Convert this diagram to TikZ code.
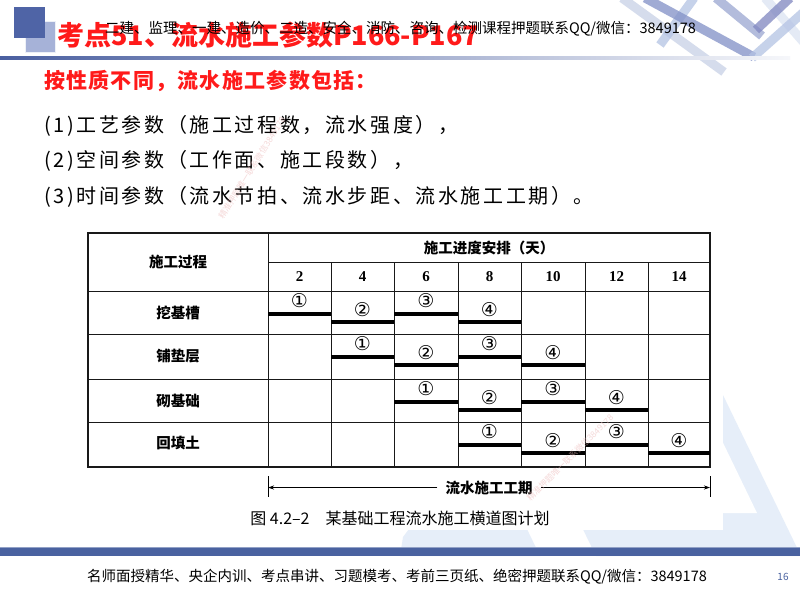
\documentclass[tikz,border=0pt]{standalone}
\usepackage{fontspec}
\setmainfont{Liberation Serif}
\newfontfamily\cjk{Noto Sans CJK SC}
\newfontfamily\song{Noto Sans CJK SC}
\newfontfamily\dejavu{DejaVu Sans}
\usetikzlibrary{arrows.meta}
\definecolor{hblue}{HTML}{4A5FA0}
\definecolor{sqdark}{HTML}{4F64A6}
\definecolor{sqlight}{HTML}{A6B2D8}
\definecolor{bgblue}{HTML}{E6EEF9}
\definecolor{wm}{HTML}{EDB9B9}
\definecolor{titlered}{HTML}{FF1A1A}
\definecolor{fblue}{HTML}{4A62A0}
\definecolor{dA}{HTML}{C8D1E6}
\definecolor{dB}{HTML}{8190C6}
\definecolor{dC}{HTML}{B4C3E4}
\definecolor{dD}{HTML}{DCE4F2}
\definecolor{dE}{HTML}{7F86C0}
\begin{document}
\begin{tikzpicture}[x=1pt,y=-1pt,
  tline/.style={line width=0.9pt,draw=black!90},
  bar/.style={line width=3.3pt,draw=black},
  circnum/.style={font=\dejavu\fontsize{19}{19}\selectfont,inner sep=0pt},
  tlabel/.style={font=\song\bfseries\fontsize{14.5}{15}\selectfont,inner sep=0pt},
  daynum/.style={font=\bfseries\fontsize{15}{15}\selectfont,inner sep=0pt},
  body/.style={anchor=west,inner sep=0pt,font=\cjk\fontsize{20}{24}\selectfont\addfontfeature{LetterSpace=13}},
  wmark/.style={text=wm,opacity=0.55,font=\cjk\fontsize{8.5}{9}\selectfont,inner sep=0pt},
  deco/.style={line width=9pt,line cap=butt,opacity=0.75}]
\useasboundingbox (0,0) rectangle (800,600);
\fill[white] (0,0) rectangle (800,600);
% background light-blue logo shapes
\fill[bgblue] (437,230) -- (643,230) -- (801,556) -- (596,556) -- cycle;
\fill[white] (690,420) -- (712,420) -- (757,513) -- (690,513) -- cycle;
\fill[bgblue] (400,556) -- (403,537) -- (412,525) -- (525,525) -- (540,556) -- cycle;
\fill[white] (78,224) rectangle (723,530);
% top-right decoration
\draw[deco,dA] (622,-2) -- (724,72);
\draw[deco,dC] (660,45) -- (694,-2);
\draw[deco,dB] (645,-2) -- (754,57);
\draw[deco,dD] (765,-2) -- (806,45);
\draw[deco,dC] (752,58) -- (806,10);
\draw[deco,dB!80] (716,-2) -- (762,36);
\draw[deco,dE] (756,30) -- (790,-2);
% header
\fill[sqlight] (25,21) rectangle (55,52);
\draw[white!80!sqlight,line width=0.6pt] (25,21) rectangle (55,52);
\fill[sqdark] (14,7) rectangle (45,38);
\shade[left color=hblue,right color=hblue!5] (0,56) rectangle (790,59);
\node[anchor=west,inner sep=0pt,text=titlered,font=\cjk\bfseries\fontsize{27}{27}\selectfont] (title) at (57,35) {考点51、流水施工参数P166-P167};
\node[anchor=west,inner sep=0pt,font=\cjk\fontsize{14.5}{15}\selectfont] (overlay) at (105,29) {二建、监理、一建、造价、二造、安全、消防、咨询、检测课程押题联系QQ/微信：3849178};
% body text
\node[body,text=titlered,font=\cjk\bfseries\fontsize{21}{24}\selectfont\addfontfeature{LetterSpace=6}] (head) at (44,81) {按性质不同，流水施工参数包括：};
\node[body] (l1) at (44,126) {(1)工艺参数（施工过程数，流水强度），};
\node[body] (l2) at (44,161) {(2)空间参数（工作面、施工段数），};
\node[body] (l3) at (44,197) {(3)时间参数（流水节拍、流水步距、流水施工工期）。};
% table grid
\draw[line width=1.3pt,draw=black!90] (88,233) rectangle (710,467);
\draw[tline] (268,233) -- (268,467);
\draw[tline] (268,262) -- (710,262);
\foreach \y in {291,334,379,422} \draw[tline] (88,\y) -- (710,\y);
\foreach \x in {331,394,458,521,585,648} \draw[tline] (\x,262) -- (\x,467);
\node[tlabel] (hproc) at (178,262) {施工过程};
\node[tlabel] (hsched) at (489,248) {施工进度安排（天）};
\foreach \d/\x in {2/299.5,4/362.5,6/426,8/489.5,10/553,12/616.5,14/679}
  \node[daynum] (day\d) at (\x,276.5) {\d};
\node[tlabel] (pa) at (178,313) {挖基槽};
\node[tlabel] (pb) at (178,356) {铺垫层};
\node[tlabel] (pc) at (178,401) {砌基础};
\node[tlabel] (pd) at (178,443) {回填土};
\foreach \t/\s/\nm in {291/1/a,334/2/b,379/3/c,422/4/d}{
  \foreach \k in {1,2,3,4}{
    \pgfmathtruncatemacro\c{\s+\k-1}
    \pgfmathsetmacro\xa{{88,268,331,394,458,521,585,648,710}[\c]}
    \pgfmathsetmacro\xb{{88,268,331,394,458,521,585,648,710}[\c+1]}
    \pgfmathsetmacro\yb{mod(\k,2)==1 ? \t+23 : \t+31}
    \pgfmathsetmacro\yl{mod(\k,2)==1 ? \t+10 : \t+18.5}
    \draw[bar] (\xa,\yb) -- (\xb,\yb);
    \node[circnum] (n\nm\k) at ({(\xa+\xb)/2},\yl) {\ifcase\k\or ①\or ②\or ③\or ④\fi};
  }
}
% duration arrow
\coordinate (Lt) at (268,476);
\coordinate (Lb) at (268,497);
\coordinate (Rt) at (710,476);
\coordinate (Rb) at (710,497);
\coordinate (La) at (268,487.5);
\coordinate (Ra) at (710,487.5);
\draw[line width=0.9pt] (Lt) -- (Lb);
\draw[line width=0.9pt] (Rt) -- (Rb);
\node[tlabel,inner xsep=8pt] (dur) at (489,487.5) {流水施工工期};
\draw[line width=0.8pt,-{Stealth[length=6pt,width=4pt]}] (dur.west) -- (La);
\draw[line width=0.8pt,-{Stealth[length=6pt,width=4pt]}] (dur.east) -- (Ra);
\node[inner sep=0pt,font=\song\fontsize{16}{16}\selectfont] (cap) at (400,518) {图 4.2–2\quad 某基础工程流水施工横道图计划};
% watermarks
\node[wmark,rotate=58] (wm1) at (252,168) {精准押题唯一联系微信3849178};
\node[wmark,rotate=45] (wm2) at (570,458) {精准押题唯一联系微信3849178};
% footer
\fill[fblue] (0,548) rectangle (800,556);
\fill[fblue!60] (0,547) rectangle (800,548);
\node[inner sep=0pt,font=\cjk\fontsize{14.5}{15}\selectfont] (foot) at (397,577) {名师面授精华、央企内训、考点串讲、习题模考、考前三页纸、绝密押题联系QQ/微信：3849178};
\node[inner sep=0pt,text=fblue,font=\cjk\fontsize{10}{10}\selectfont] (pg) at (783,577) {16};
\end{tikzpicture}
\end{document}
